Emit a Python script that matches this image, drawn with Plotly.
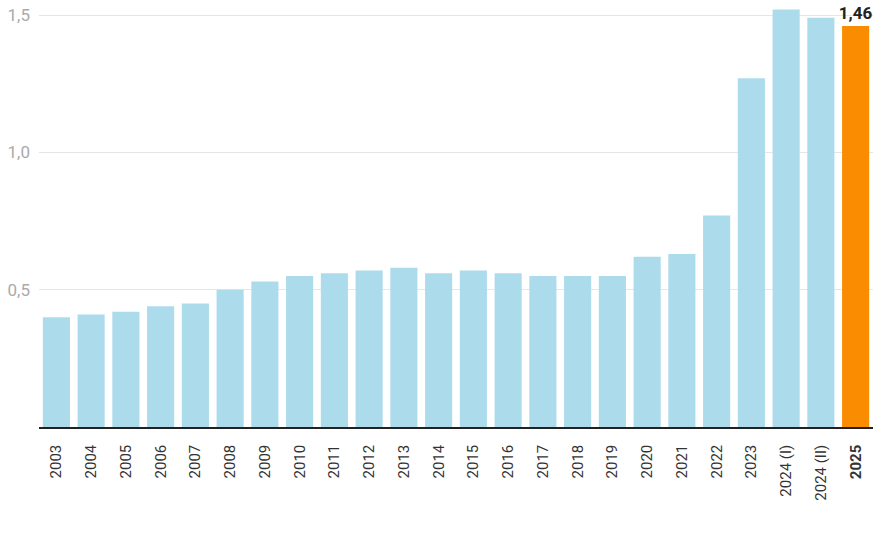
import plotly.graph_objects as go

categories = ["2003", "2004", "2005", "2006", "2007", "2008", "2009", "2010", "2011", "2012",
              "2013", "2014", "2015", "2016", "2017", "2018", "2019", "2020", "2021", "2022",
              "2023", "2024 (I)", "2024 (II)", "2025"]
values = [0.40, 0.41, 0.42, 0.44, 0.45, 0.50, 0.53, 0.55, 0.56, 0.57,
          0.58, 0.56, 0.57, 0.56, 0.55, 0.55, 0.55, 0.62, 0.63, 0.77,
          1.27, 1.52, 1.49, 1.46]
highlight = "2025"
y_ticks = [0.5, 1.0, 1.5]
y_tick_labels = ["0,5", "1,0", "1,5"]

colors = ["#f98c00" if c == highlight else "#acdcec" for c in categories]
x_tick_labels = [f"<b>{c}</b>" if c == highlight else c for c in categories]
texts = [f"<b>{v:.2f}</b>".replace(".", ",") if c == highlight else "" for c, v in zip(categories, values)]

fig = go.Figure(go.Bar(
    x=categories, y=values, marker=dict(color=colors, line=dict(width=0)),
    text=texts, textposition="outside", cliponaxis=False, constraintext="none",
    textfont=dict(family="Roboto", size=17, color="#222222"),
))

fig.update_layout(
    width=880, height=540,
    margin=dict(l=39, r=7, t=0, b=113),
    paper_bgcolor="white", plot_bgcolor="white",
    bargap=0.22, showlegend=False,
    separators=",.",
    font=dict(family="Roboto", color="#333333"),
)
fig.update_xaxes(
    type="category", tickvals=categories, ticktext=x_tick_labels,
    tickangle=-90, tickfont=dict(family="Roboto", size=15, color="#333333"),
    showline=True, linecolor="#222222", linewidth=1.5,
    ticks="", showgrid=False, ticklabelstandoff=10,
)
fig.update_yaxes(
    range=[0, 1.555], tickvals=y_ticks, ticktext=y_tick_labels,
    tickfont=dict(family="Roboto", size=17, color="#aaaaaa"),
    showgrid=True, gridcolor="#e6e6e6", gridwidth=1,
    zeroline=False, showline=False, ticks="", ticklabelstandoff=8,
)

fig.write_html("out.html")
